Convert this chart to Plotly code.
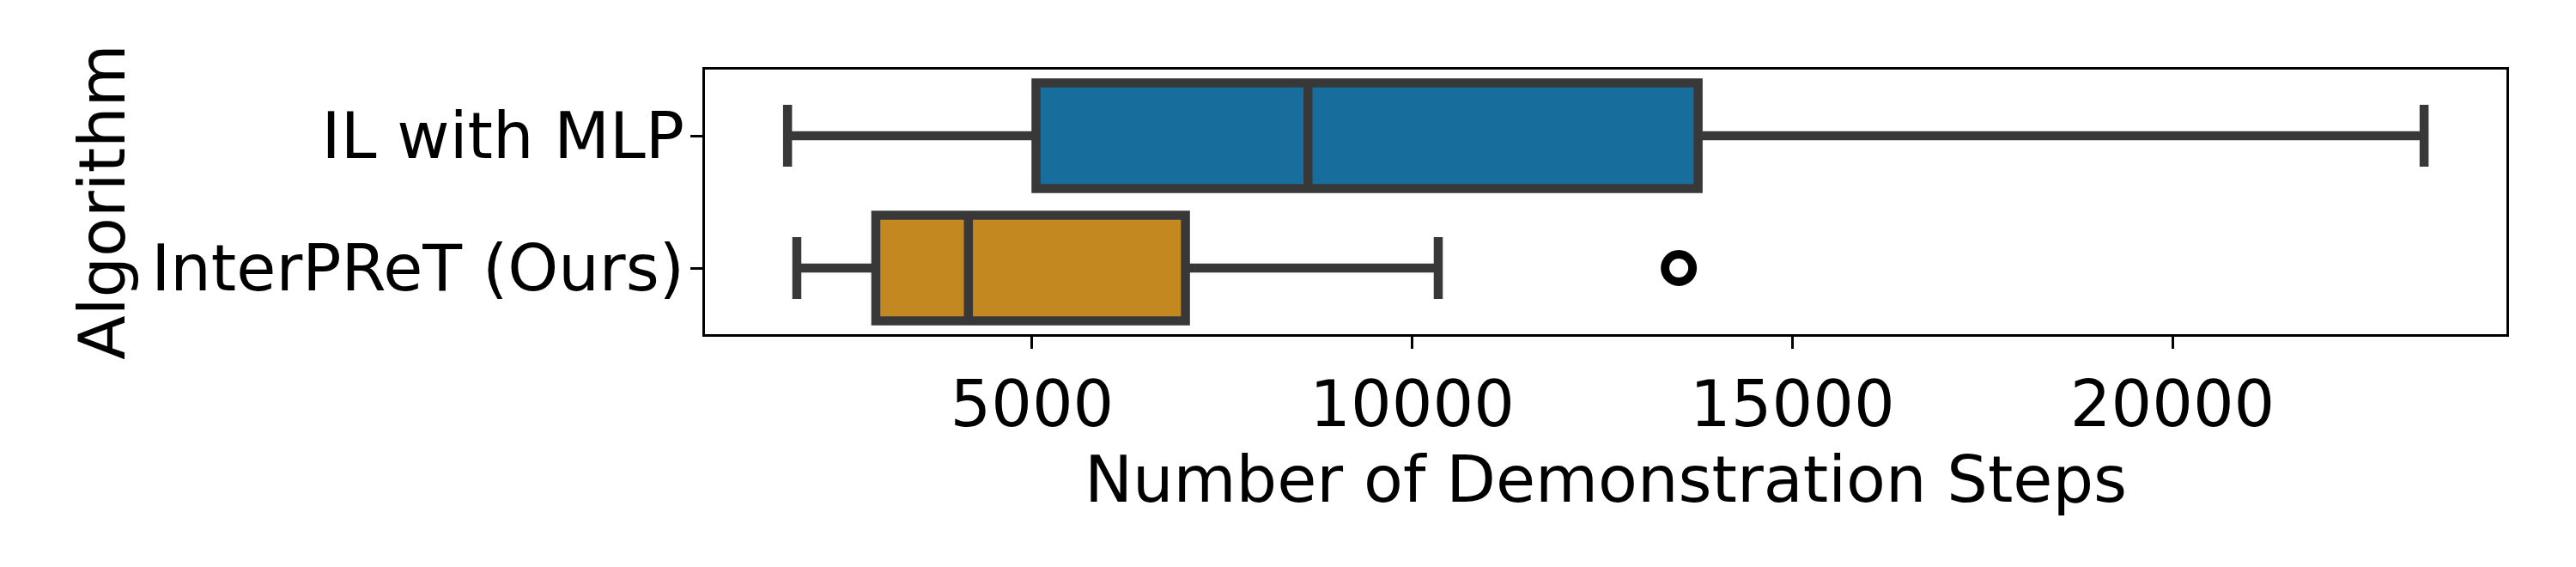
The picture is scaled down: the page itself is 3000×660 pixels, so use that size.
import plotly.graph_objects as go

categories = ["IL with MLP", "InterPReT (Ours)"]
lower_whisker = [1784, 1906]
q1_vals = [5052, 2945]
median_vals = [8630, 4163]
q3_vals = [13761, 7018]
upper_whisker = [23310, 10343]
outlier_cat = ["InterPReT (Ours)"]
outlier_vals = [13507]
fill_colors = ["#176d9c", "#c38820"]
x_ticks = [5000, 10000, 15000, 20000]

LINE = "#383838"
FONT = dict(family="DejaVu Sans", size=75, color="black")

fig = go.Figure()
for i, cat in enumerate(categories):
    fig.add_trace(go.Box(
        y=[cat], q1=[q1_vals[i]], median=[median_vals[i]], q3=[q3_vals[i]],
        lowerfence=[lower_whisker[i]], upperfence=[upper_whisker[i]],
        orientation="h", boxpoints=False, width=0.8, whiskerwidth=0.585,
        fillcolor=fill_colors[i], line=dict(color=LINE, width=10.5),
        showlegend=False, hoverinfo="skip",
    ))

fig.add_trace(go.Scatter(
    x=outlier_vals, y=outlier_cat, mode="markers",
    marker=dict(symbol="circle-open", size=32, color="black",
                line=dict(color="black", width=10)),
    showlegend=False, hoverinfo="skip",
))

# page body has an 8px default margin; compensate so the plot lands in place
fig.update_layout(
    width=2992, height=652,
    margin=dict(l=813, r=81, t=73, b=271),
    paper_bgcolor="white", plot_bgcolor="white",
    font=FONT, boxmode="overlay",
)
fig.update_xaxes(
    range=[698, 24393], tickvals=x_ticks, ticktext=[str(v) for v in x_ticks],
    showline=True, linecolor="black", linewidth=3, mirror=True,
    ticks="outside", ticklen=14, tickwidth=3, tickcolor="black",
    showgrid=False, zeroline=False,
    title=dict(text="Number of Demonstration Steps", font=FONT, standoff=6),
    tickfont=FONT,
)
fig.update_yaxes(
    type="category", categoryorder="array", categoryarray=categories[::-1],
    range=[-0.5, 1.5],
    showline=True, linecolor="black", linewidth=3, mirror=True,
    ticks="outside", ticklen=14, tickwidth=3, tickcolor="black",
    showgrid=False, zeroline=False, ticklabelstandoff=-8,
    title=dict(text="Algorithm", font=FONT, standoff=6),
    tickfont=FONT,
)

fig.write_html("out.html", config={"displayModeBar": False})
